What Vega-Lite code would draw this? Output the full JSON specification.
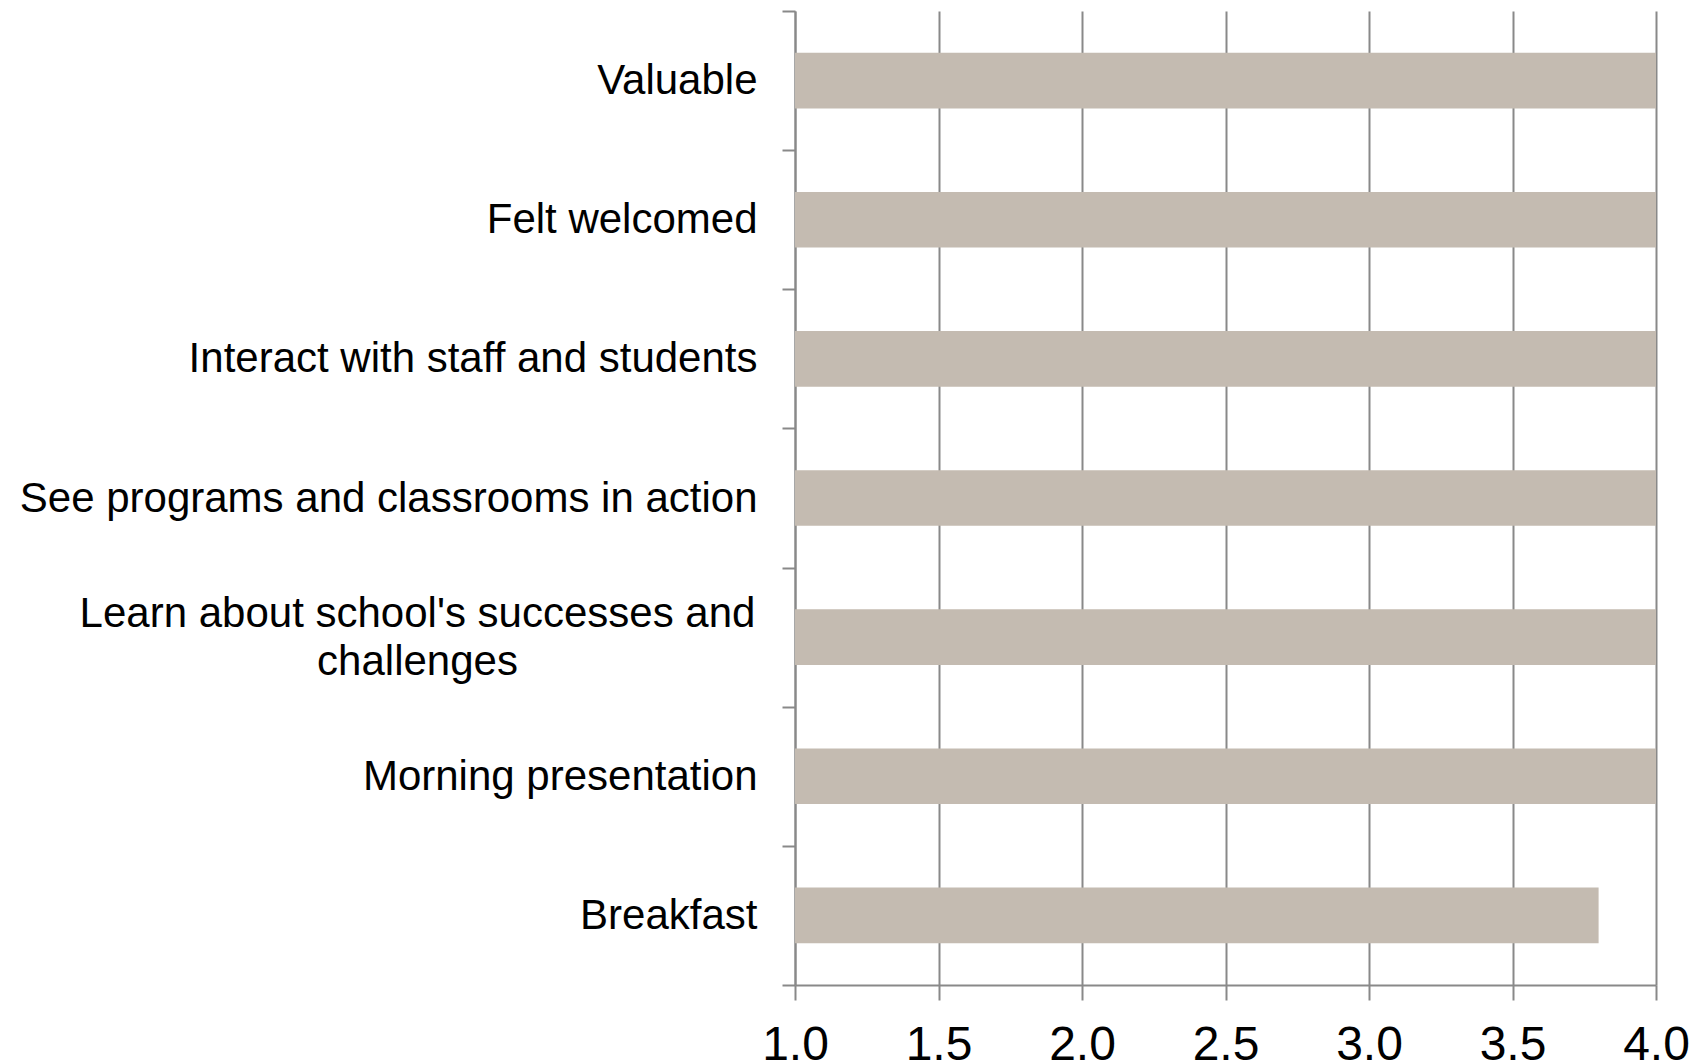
{
  "$schema": "https://vega.github.io/schema/vega-lite/v6.json",
  "width": 861,
  "height": 974,
  "autosize": {"type": "none"},
  "padding": {"left": 795, "top": 11, "right": 51, "bottom": 78},
  "background": "white",
  "config": {
    "view": {"stroke": null},
    "font": "Liberation Sans"
  },
  "data": {
    "values": [
      {"item": "Valuable", "score": 4.0},
      {"item": "Felt welcomed", "score": 4.0},
      {"item": "Interact with staff and students", "score": 4.0},
      {"item": "See programs and classrooms in action", "score": 4.0},
      {"item": "Learn about school's successes and challenges", "score": 4.0},
      {"item": "Morning presentation", "score": 4.0},
      {"item": "Breakfast", "score": 3.8}
    ]
  },
  "mark": {"type": "bar", "color": "#c4bbb1", "clip": true, "height": {"band": 0.4}},
  "encoding": {
    "y": {
      "field": "item",
      "type": "nominal",
      "sort": null,
      "scale": {"paddingInner": 0, "paddingOuter": 0},
      "axis": {
        "title": null,
        "tickBand": "extent",
        "grid": false,
        "domainColor": "#898989",
        "domainWidth": 2,
        "tickColor": "#898989",
        "tickWidth": 2,
        "tickSize": 13,
        "labelFont": "Liberation Sans",
        "labelFontSize": 42,
        "labelColor": "#000000",
        "labelLimit": 0,
        "labelLineHeight": 48,
        "labelExpr": "datum.value == \"Learn about school's successes and challenges\" ? [\"Learn about school's successes and\", \"challenges\"] : datum.value",
        "labelAlign": {"condition": {"test": "datum.value == \"Learn about school's successes and challenges\"", "value": "center"}, "value": "right"},
        "labelPadding": {"condition": {"test": "datum.value == \"Learn about school's successes and challenges\"", "value": 365}, "value": 25},
        "labelOffset": {"condition": {"test": "datum.value == \"Learn about school's successes and challenges\"", "value": -24}, "value": 0}
      }
    },
    "x": {
      "field": "score",
      "type": "quantitative",
      "scale": {"domain": [1, 4], "nice": false, "zero": false},
      "axis": {
        "title": null,
        "values": [1, 1.5, 2, 2.5, 3, 3.5, 4],
        "format": ".1f",
        "grid": true,
        "gridColor": "#898989",
        "gridWidth": 2,
        "gridOpacity": 1,
        "domainColor": "#898989",
        "domainWidth": 2,
        "tickColor": "#898989",
        "tickWidth": 2,
        "tickSize": 15,
        "labelFont": "Liberation Sans",
        "labelFontSize": 48,
        "labelColor": "#000000",
        "labelPadding": 21,
        "labelFlush": false,
        "labelOverlap": false
      }
    }
  }
}
